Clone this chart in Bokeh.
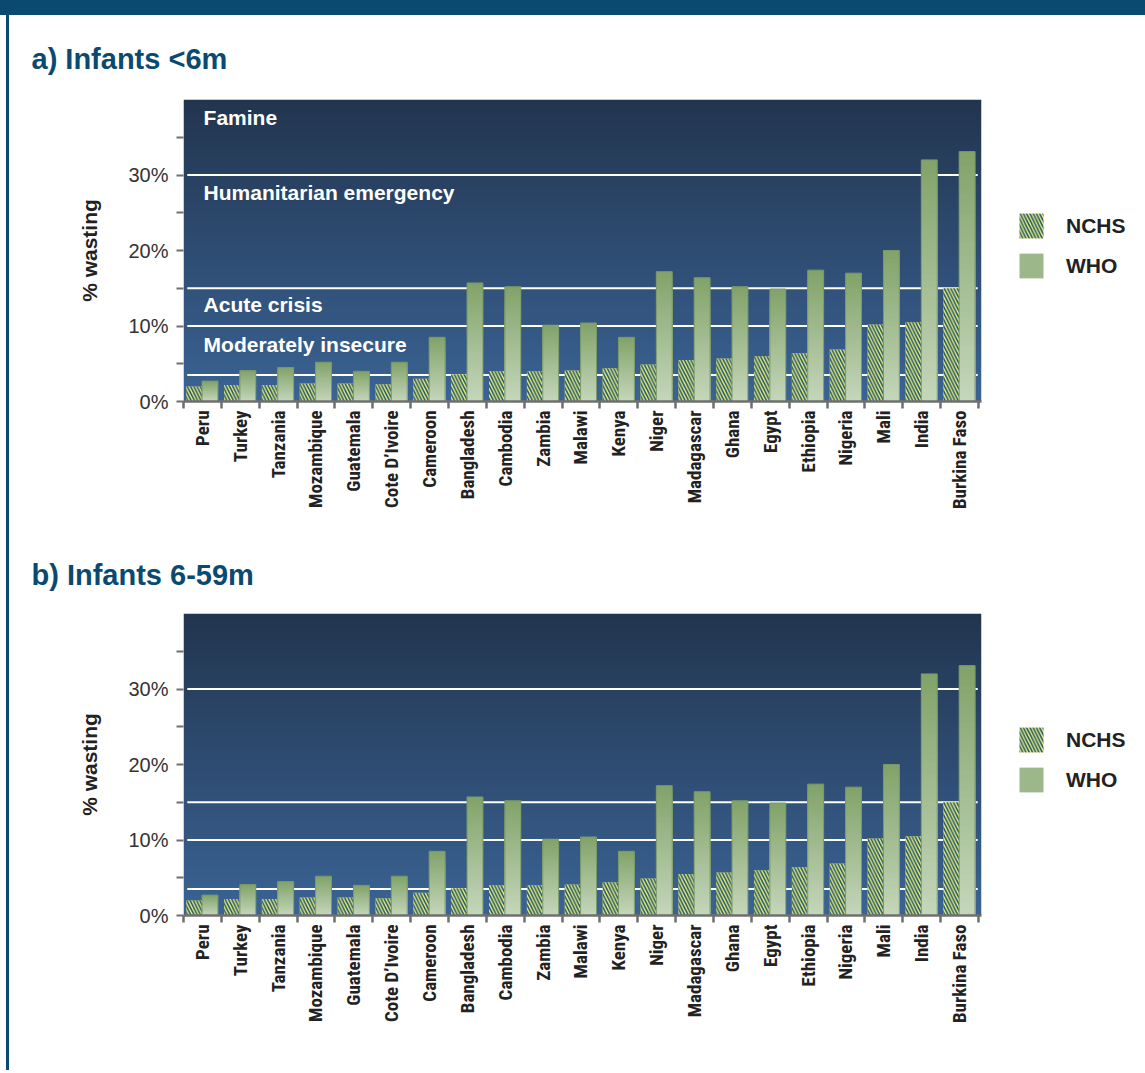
import numpy as np
from bokeh.plotting import figure
from bokeh.models import (ColumnDataSource, FixedTicker, CustomJSTickFormatter,
                          PrintfTickFormatter, Legend, LegendItem, Div, Spacer)
from bokeh.layouts import column, row
from bokeh.embed import file_html
from bokeh.resources import INLINE
from bokeh.core.properties import value

# ---------------- data ----------------
countries = ["Peru", "Turkey", "Tanzania", "Mozambique", "Guatemala", "Cote D\u2019Ivoire",
             "Cameroon", "Bangladesh", "Cambodia", "Zambia", "Malawi", "Kenya", "Niger",
             "Madagascar", "Ghana", "Egypt", "Ethiopia", "Nigeria", "Mali", "India",
             "Burkina Faso"]
nchs_under6m = [2.0, 2.2, 2.2, 2.4, 2.4, 2.3, 3.0, 3.6, 4.0, 4.0, 4.1, 4.4, 4.9,
                5.5, 5.7, 6.0, 6.4, 6.9, 10.2, 10.5, 15.0]
who_under6m = [2.7, 4.1, 4.5, 5.2, 4.0, 5.2, 8.5, 15.7, 15.2, 10.1, 10.4, 8.5, 17.2,
               16.4, 15.2, 14.9, 17.4, 17.0, 20.0, 32.0, 33.1]
nchs_6to59m = [2.0, 2.2, 2.2, 2.4, 2.4, 2.3, 3.0, 3.6, 4.0, 4.0, 4.1, 4.4, 4.9,
               5.5, 5.7, 6.0, 6.4, 6.9, 10.2, 10.5, 15.0]
who_6to59m = [2.7, 4.1, 4.5, 5.2, 4.0, 5.2, 8.5, 15.7, 15.2, 10.1, 10.4, 8.5, 17.2,
              16.4, 15.2, 14.9, 17.4, 17.0, 20.0, 32.0, 33.1]
threshold_lines = [30, 15, 10, 3.5]
zone_labels = ["Famine", "Humanitarian emergency", "Acute crisis", "Moderately insecure"]
zone_label_y = [37.6, 27.7, 12.8, 7.6]
y_major_ticks = [0, 10, 20, 30]
y_minor_ticks = [5, 15, 25, 35]
series_names = ["NCHS", "WHO"]
panel_titles = ["a) Infants <6m", "b) Infants 6-59m"]

# ---------------- style ----------------
XMAX = 21.08
YMAX = 40
BG_TOP = (0x22, 0x35, 0x4f)
BG_BOT = (0x3a, 0x63, 0x94)
WHO_TOP = (0x82, 0xa3, 0x6a)
WHO_BOT = (0xc4, 0xd6, 0xba)
NAVY = "#0b4a70"
AXIS_GRAY = "#6f6f6f"
ARIAL = "Liberation Sans"
NARROW = "Noto Sans Condensed, Roboto Condensed, Liberation Sans Narrow, DejaVu Sans Condensed"


def lerp(c1, c2, t):
    return "#%02x%02x%02x" % tuple(int(round(a + (b - a) * t)) for a, b in zip(c1, c2))


def background_image():
    n = 160
    img = np.zeros((n, 1), dtype=np.uint32)
    view = img.view(dtype=np.uint8).reshape((n, 1, 4))
    for i in range(n):
        t = i / (n - 1)
        for ch in range(3):
            view[i, 0, ch] = int(round(BG_BOT[ch] + (BG_TOP[ch] - BG_BOT[ch]) * t))
        view[i, 0, 3] = 255
    return img


def make_panel(title, nchs, who, show_zones, border_top, border_bottom, title_standoff):
    p = figure(frame_width=798, frame_height=302, x_range=(0, XMAX), y_range=(0, YMAX),
               output_backend="svg", toolbar_location=None,
               min_border_left=174, min_border_right=160,
               min_border_top=border_top, min_border_bottom=border_bottom,
               border_fill_color="white", outline_line_color=None, title=title)
    p.title.align = "left"
    p.title.offset = -152
    p.title.standoff = title_standoff
    p.title.text_font = ARIAL
    p.title.text_font_size = "29px"
    p.title.text_font_style = "bold"
    p.title.text_color = NAVY
    p.grid.visible = False

    # gradient background
    p.image_rgba(image=[background_image()], x=0, y=0, dw=XMAX, dh=YMAX)

    # threshold lines
    p.segment(x0=[0.1] * len(threshold_lines), x1=[XMAX - 0.1] * len(threshold_lines),
              y0=threshold_lines, y1=threshold_lines, line_color="white", line_width=2)

    if show_zones:
        p.text(x=[0.53] * len(zone_labels), y=zone_label_y, text=zone_labels,
               text_font=value(ARIAL), text_font_style="bold", text_font_size="21px",
               text_color="white", text_baseline="middle", text_align="left")

    idx = np.arange(len(countries))

    # NCHS hatched bars: yellow fill, then hatch on top
    nchs_src = ColumnDataSource(dict(x=idx + 0.28, top=nchs))
    r_nchs_fill = p.vbar(x="x", top="top", width=0.42, source=nchs_src,
                         fill_color="#f6f06c", line_color=None)
    r_nchs_hatch = p.vbar(x="x", top="top", width=0.42, source=nchs_src,
                          fill_color=None, line_color=None,
                          hatch_pattern="left_diagonal_line", hatch_color="#1f5a7b",
                          hatch_weight=1.6, hatch_scale=6.5)

    # WHO gradient bars (nested bars from baseline, darkest/tallest first)
    levels = 36
    xs, tops, cols = [], [], []
    for k in range(levels):
        t = k / (levels - 1)
        c = lerp(WHO_TOP, WHO_BOT, t)
        for i, v in enumerate(who):
            xs.append(i + 0.70)
            tops.append(v * (1 - k / levels))
            cols.append(c)
    who_src = ColumnDataSource(dict(x=xs, top=tops, color=cols))
    r_who = p.vbar(x="x", top="top", width=0.42, source=who_src,
                   fill_color="color", line_color=None)
    p.vbar(x=idx + 0.70, top=who, width=0.42, fill_alpha=0,
           line_color="#79986a", line_width=1)

    # axes
    yax = p.yaxis[0]
    yax.ticker = FixedTicker(ticks=y_major_ticks, minor_ticks=y_minor_ticks)
    yax.formatter = PrintfTickFormatter(format="%d%%")
    yax.axis_line_color = None
    yax.major_tick_out = 7
    yax.major_tick_in = 0
    yax.minor_tick_out = 7
    yax.minor_tick_in = 0
    yax.major_tick_line_color = AXIS_GRAY
    yax.minor_tick_line_color = AXIS_GRAY
    yax.major_tick_line_width = 2
    yax.minor_tick_line_width = 2
    yax.major_label_text_font = ARIAL
    yax.major_label_text_font_size = "20px"
    yax.major_label_text_color = "#333333"
    yax.major_label_standoff = 8
    yax.axis_label = "% wasting"
    yax.axis_label_text_font = ARIAL
    yax.axis_label_text_font_size = "21px"
    yax.axis_label_text_font_style = "bold"
    yax.axis_label_text_color = "#222222"
    yax.axis_label_standoff = 24

    xax = p.xaxis[0]
    xax.ticker = FixedTicker(ticks=list(idx + 0.5), minor_ticks=list(range(len(countries) + 1)))
    xax.formatter = CustomJSTickFormatter(args=dict(names=countries),
                                          code="return names[Math.floor(tick)];")
    xax.axis_line_color = AXIS_GRAY
    xax.axis_line_width = 2.5
    xax.major_tick_line_color = None
    xax.major_tick_out = 7
    xax.major_tick_in = 0
    xax.minor_tick_out = 7
    xax.minor_tick_in = 0
    xax.minor_tick_line_color = AXIS_GRAY
    xax.minor_tick_line_width = 2.5
    xax.major_label_orientation = np.pi / 2
    xax.major_label_text_font = NARROW
    xax.major_label_text_font_size = "19px"
    xax.major_label_text_font_style = "bold"
    xax.major_label_text_color = "#222222"
    xax.major_label_standoff = 2

    legend = Legend(items=[LegendItem(label=series_names[0], renderers=[r_nchs_fill, r_nchs_hatch]),
                           LegendItem(label=series_names[1], renderers=[r_who], index=21 * 14)],
                    location=(35, 120), orientation="vertical",
                    glyph_width=30, glyph_height=31, spacing=9, padding=0, margin=0,
                    label_standoff=20, label_text_font=ARIAL, label_text_font_size="21px",
                    label_text_font_style="bold", label_text_color="#222222",
                    border_line_color=None, background_fill_alpha=0)
    p.add_layout(legend, "right")
    return p


p_a = make_panel(panel_titles[0], nchs_under6m, who_under6m, True, 84, 129, 49)
p_b = make_panel(panel_titles[1], nchs_6to59m, who_6to59m, False, 83, 155, 46)

header = Div(text="", width=1145, height=15, margin=0,
             styles={"background-color": NAVY})
body = column(p_a, p_b, spacing=0, margin=0,
              styles={"border-left": "3px solid " + NAVY})
page = column(header, row(Spacer(width=6, height=10, margin=0), body, spacing=0, margin=0),
              spacing=0, margin=0)

open("out.html", "w").write(file_html(page, INLINE))
